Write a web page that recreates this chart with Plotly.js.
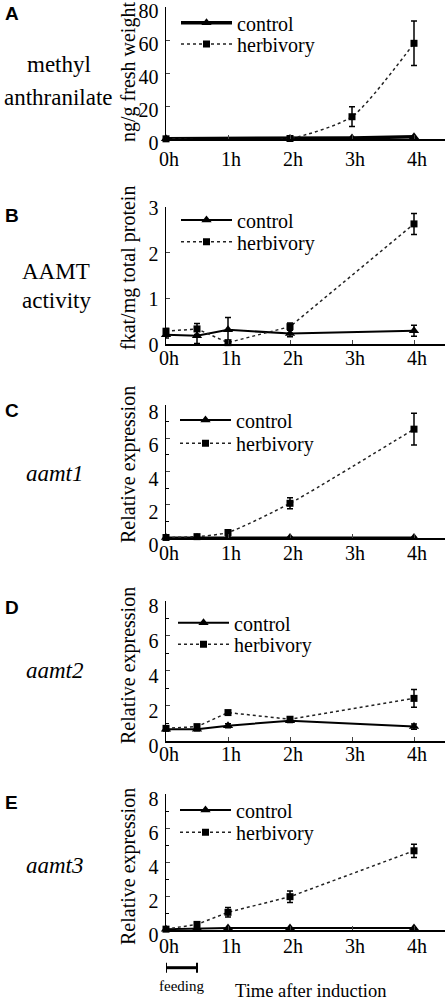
<!DOCTYPE html>
<html>
<head>
<meta charset="utf-8">
<script src="https://cdn.plot.ly/plotly-3.0.1.min.js"></script>
<style>html,body{margin:0;padding:0;background:#fff;}#chart{width:448px;height:1003px;}</style>
</head>
<body>
<div id="chart"></div>
<script>
// ---- data ----
const tickHours = [0, 1, 2, 3, 4];
const tickLabels = ["0h", "1h", "2h", "3h", "4h"];
const seriesNames = ["control", "herbivory"];

const hoursA = [0, 2, 3, 4];
const controlA = [0.2, 0.3, 0.6, 1.4];
const controlErrA = [0, 0, 0, 0];
const herbA = [0.1, 0.3, 13.5, 58];
const herbErrA = [0, 0, 6, 13.5];
const yTicksA = [0, 20, 40, 60, 80];

const hours = [0, 0.5, 1, 2, 4];

const controlB = [0.2, 0.18, 0.31, 0.23, 0.29];
const controlErrB = [0.07, 0.17, 0.27, 0.07, 0.12];
const herbB = [0.28, 0.33, 0.03, 0.38, 2.63];
const herbErrB = [0.06, 0.12, 0.02, 0.08, 0.23];
const yTicksB = [0, 1, 2, 3];

const controlC = [0.05, 0.05, 0.05, 0.05, 0.05];
const controlErrC = [0, 0, 0, 0, 0];
const herbC = [0.05, 0.1, 0.35, 2.1, 6.55];
const herbErrC = [0, 0.05, 0.12, 0.33, 0.95];

const controlD = [0.67, 0.67, 0.87, 1.16, 0.82];
const controlErrD = [0.08, 0.08, 0.12, 0.1, 0.15];
const herbD = [0.72, 0.82, 1.62, 1.24, 2.43];
const herbErrD = [0.1, 0.1, 0.08, 0.12, 0.5];

const controlE = [0.05, 0.1, 0.12, 0.12, 0.12];
const controlErrE = [0, 0, 0, 0, 0];
const herbE = [0.05, 0.33, 1.04, 1.96, 4.66];
const herbErrE = [0, 0.08, 0.28, 0.34, 0.39];
const yTicksExpr = [0, 2, 4, 6, 8];

const panelLetters = ["A", "B", "C", "D", "E"];
const yTitles = ["ng/g fresh weight", "fkat/mg total protein", "Relative expression", "Relative expression", "Relative expression"];
const feedingStart = 0, feedingEnd = 0.5;

// ---- layout / styling ----
const H = 1003, W = 448;
const SERIF = "Liberation Serif, Times New Roman, serif";
const SANS = "Liberation Sans, Arial, sans-serif";
const py = p => 1 - p / H;
const px = p => p / W;

const panels = [
  {x: hoursA, c: controlA, ce: controlErrA, h: herbA, he: herbErrA, top: 7, bot: 139, range: [0, 80], ticks: yTicksA, minor: null, shift: 4, cw: 3.5, spline: true,
   left: [["methyl", 65, false, 59], ["anthranilate", 97, false, 58]], titleY: 72, letterY: 14, legY: [22.7, 44], legX: 181, xstand: 1},
  {x: hours, c: controlB, ce: controlErrB, h: herbB, he: herbErrB, top: 207, bot: 344, range: [0, 3], ticks: yTicksB, minor: null, shift: 1, cw: 2, spline: false,
   left: [["AAMT", 272, false, 56], ["activity", 300, false, 56]], titleY: 268, letterY: 215, legY: [220, 241.7], legX: 181, xstand: -5},
  {x: hours, c: controlC, ce: controlErrC, h: herbC, he: herbErrC, top: 405, bot: 538.3, range: [0, 8], ticks: yTicksExpr, minor: 1, shift: 7, cw: 2, spline: true,
   left: [["aamt1", 473, true, 55]], titleY: 465, letterY: 410, legY: [420, 443.3], legX: 180, xstand: -4},
  {x: hours, c: controlD, ce: controlErrD, h: herbD, he: herbErrD, top: 600.7, bot: 741, range: [0, 8], ticks: yTicksExpr, minor: 1, shift: 5, cw: 2, spline: false,
   left: [["aamt2", 670, true, 55]], titleY: 666, letterY: 607, legY: [622.7, 644.3], legX: 178, xstand: -6},
  {x: hours, c: controlE, ce: controlErrE, h: herbE, he: herbErrE, top: 794, bot: 930, range: [0, 8], ticks: yTicksExpr, minor: 1, shift: 5, cw: 2, spline: false,
   left: [["aamt3", 865, true, 55]], titleY: 867, letterY: 802, legY: [810, 832.3], legX: 180, xstand: -3}
];

const traces = [];
const layout = {
  width: W, height: H,
  margin: {l: 0, r: 0, t: 0, b: 0},
  paper_bgcolor: "#fff", plot_bgcolor: "#fff",
  showlegend: true,
  annotations: [], shapes: []
};

panels.forEach((p, i) => {
  const n = i + 1;
  const xa = "x" + (n === 1 ? "" : n), ya = "y" + (n === 1 ? "" : n);
  const xk = "xaxis" + (n === 1 ? "" : n), yk = "yaxis" + (n === 1 ? "" : n);
  const legC = "legend" + (2 * i + 1 === 1 ? "" : 2 * i + 1);
  const legH = "legend" + (2 * i + 2);

  layout[xk] = {
    domain: [px(166), px(445)], range: [0, 4.5], anchor: ya,
    tickmode: "array", tickvals: tickHours, ticktext: tickLabels, ticks: "inside", ticklen: 4, tickwidth: 1,
    showline: true, linewidth: 1.5, linecolor: "#000", showgrid: false, zeroline: false, ticklabeloverflow: "allow",
    tickfont: {family: SERIF, size: 20, color: "#000"}, ticklabelstandoff: p.xstand, ticklabelshift: 3, fixedrange: true
  };
  const yax = {
    domain: [py(p.bot), py(p.top)], range: p.range, anchor: xa,
    tickmode: "array", tickvals: p.ticks, ticks: "inside", ticklen: 4, tickwidth: 1,
    showline: true, linewidth: 1.5, linecolor: "#000", showgrid: false, zeroline: false, ticklabeloverflow: "allow",
    tickfont: {family: SERIF, size: 20, color: "#000"}, ticklabelshift: p.shift, ticklabelstandoff: 2, fixedrange: true
  };
  if (p.minor) yax.minor = {dtick: p.minor, tick0: 0, ticks: "inside", ticklen: 3, tickwidth: 1, tickcolor: "#000", showgrid: false};
  layout[yk] = yax;

  traces.push({
    type: "scatter", mode: "lines+markers", x: p.x, y: p.c, xaxis: xa, yaxis: ya,
    name: seriesNames[0], legend: legC, cliponaxis: false,
    line: {color: "#000", width: p.cw},
    marker: {symbol: "triangle-up", size: 9, color: "#000"},
    error_y: {type: "data", array: p.ce, visible: true, color: "#000", thickness: 1.5, width: 3}
  });
  traces.push({
    type: "scatter", mode: "lines+markers", x: p.x, y: p.h, xaxis: xa, yaxis: ya,
    name: seriesNames[1], legend: legH, cliponaxis: false,
    line: {color: "#222", width: 1.5, dash: "dot", shape: p.spline ? "spline" : "linear", smoothing: 0.6},
    marker: {symbol: "square", size: 7, color: "#000"},
    error_y: {type: "data", array: p.he, visible: true, color: "#000", thickness: 1.5, width: 3}
  });

  const legBase = {xanchor: "left", yanchor: "middle", bgcolor: "rgba(0,0,0,0)", borderwidth: 0,
    font: {family: SERIF, size: 20, color: "#000"}, itemwidth: 51, tracegroupgap: 0, itemclick: false, itemdoubleclick: false};
  layout[legC] = Object.assign({}, legBase, {x: px(p.legX - 5), y: py(p.legY[0])});
  layout[legH] = Object.assign({}, legBase, {x: px(p.legX - 5), y: py(p.legY[1])});

  // panel letter
  layout.annotations.push({xref: "paper", yref: "paper", x: px(3), y: py(p.letterY), xanchor: "left", yanchor: "middle",
    text: "<b>" + panelLetters[i] + "</b>", showarrow: false, font: {family: SANS, size: 19, color: "#000"}});
  // left descriptive labels
  p.left.forEach(l => {
    layout.annotations.push({xref: "paper", yref: "paper", x: px(l[3]), y: py(l[1]), xanchor: "center", yanchor: "middle",
      text: l[2] ? "<i>" + l[0] + "</i>" : l[0], showarrow: false, font: {family: SERIF, size: 23, color: "#000"}});
  });
  // y axis title
  layout.annotations.push({xref: "paper", yref: "paper", x: px(128), y: py(p.titleY), xanchor: "center", yanchor: "middle",
    text: yTitles[i], textangle: -90, showarrow: false, font: {family: SERIF, size: 20, color: "#000"}});
});

// feeding bar under panel E
const feedY = py(967.7);
layout.shapes.push({type: "line", xref: "x5", yref: "paper", x0: feedingStart, x1: feedingEnd, y0: feedY, y1: feedY, line: {color: "#000", width: 3}});
[feedingStart, feedingEnd].forEach(v => {
  layout.shapes.push({type: "line", xref: "x5", yref: "paper", ysizemode: "pixel", yanchor: feedY, x0: v, x1: v, y0: -5, y1: 5, line: {color: "#000", width: 2}});
});
layout.annotations.push({xref: "x5", yref: "paper", x: (feedingStart + feedingEnd) / 2, y: py(985.7), xanchor: "center", yanchor: "middle",
  text: "feeding", showarrow: false, font: {family: SERIF, size: 15, color: "#000"}});
layout.annotations.push({xref: "paper", yref: "paper", x: px(310), y: 0, xanchor: "center", yanchor: "bottom",
  text: "Time after induction", showarrow: false, font: {family: SERIF, size: 18.5, color: "#000"}});

Plotly.newPlot("chart", traces, layout, {displayModeBar: false, staticPlot: true});
</script>
</body>
</html>
